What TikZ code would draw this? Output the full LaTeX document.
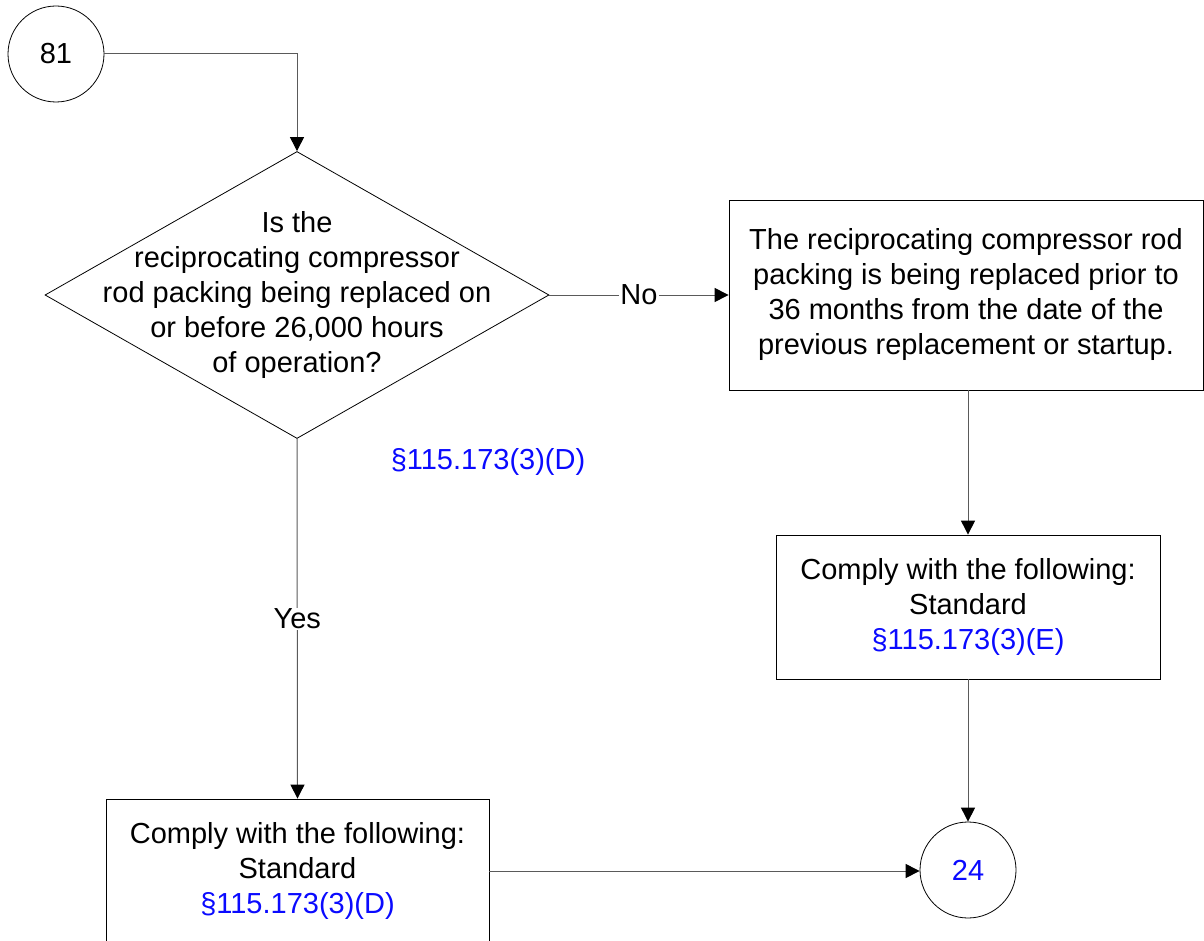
\documentclass[tikz,border=0pt]{standalone}
\usepackage{fontspec}
\setmainfont{Liberation Sans}
\usetikzlibrary{shapes.geometric,arrows.meta}
\definecolor{conn}{RGB}{90,90,90}
\definecolor{refblue}{RGB}{10,10,255}
\begin{document}
\begin{tikzpicture}[x=1pt,y=-1pt,
  every node/.style={font=\fontsize{29}{35}\selectfont},
  shapebox/.style={draw=black, line width=0.8pt, rectangle, inner sep=0pt, align=center},
  conncircle/.style={draw=black, line width=0.8pt, circle, inner sep=0pt, minimum size=96pt},
  flow/.style={draw=conn, line width=1pt, -{Triangle[length=14pt,width=14pt,color=black]}},
  lbl/.style={fill=white, inner sep=1pt},
  ref/.style={text=refblue}
]
\useasboundingbox (0,0) rectangle (1204,941);

\node[conncircle] (c81) at (56,54) {81};
\node[diamond, draw=black, line width=0.8pt, inner sep=0pt, minimum width=504pt, minimum height=287pt] (q) at (297,295) {};
\node[align=center, inner sep=0pt] (qt) at (q.center) {Is the\\reciprocating compressor\\rod packing being replaced on\\or before 26,000 hours\\of operation?};
\node[ref] (qref) at (488,462) {§115.173(3)(D)};

\node[shapebox, minimum width=474pt, minimum height=190pt] (r1) at (966,295)
  {The reciprocating compressor rod\\packing is being replaced prior to\\36 months from the date of the\\previous replacement or startup.};
\node[shapebox, minimum width=384pt, minimum height=144pt] (r2) at (968,607)
  {Comply with the following:\\Standard\\\textcolor{refblue}{§115.173(3)(E)}};
\node[shapebox, minimum width=383pt, minimum height=144pt] (b1) at (297.5,871)
  {Comply with the following:\\Standard\\\textcolor{refblue}{§115.173(3)(D)}};
\node[conncircle, text=refblue] (c24) at (968,870) {24};

\draw[flow] (c81.east) -| (q.north);
\draw[flow] (q.east) -- node[lbl] {No} (r1.west);
\draw[flow] (q.south) -- node[lbl] {Yes} (b1.north);
\draw[flow] (r1.south -| r2.north) -- (r2.north);
\draw[flow] (r2.south) -- (c24.north);
\draw[flow] (b1.east) -- (b1.east -| c24.west);
\end{tikzpicture}
\end{document}
